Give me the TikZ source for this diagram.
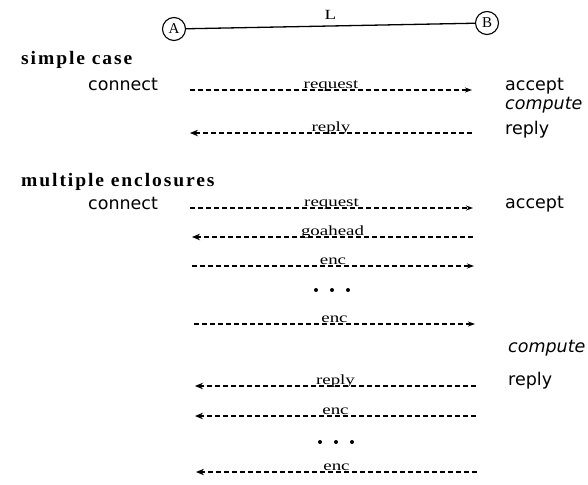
\documentclass[tikz,border=0pt]{standalone}
\usepackage{fontspec}
\setmainfont{Liberation Serif}
\newfontfamily\sidefont{DejaVu Sans}
\newfontfamily\headfont[FakeStretch=1.03,LetterSpace=10]{Liberation Serif}
\newfontfamily\lblfont[FakeStretch=1.35]{Liberation Serif}
\usetikzlibrary{arrows.meta}

\tikzset{
  side/.style={font=\sidefont\fontsize{17.5}{20}\selectfont, anchor=base west, inner sep=0pt},
  sideit/.style={side, font=\sidefont\itshape\fontsize{17.5}{20}\selectfont},
  head/.style={font=\headfont\bfseries\fontsize{19}{22}\selectfont, anchor=base west, inner sep=0pt},
  lbl/.style={font=\lblfont\fontsize{14}{16}\selectfont, anchor=base, inner sep=0pt, yshift=1.5pt},
  msg/.style={line width=1.3pt, dash pattern=on 5pt off 3pt,
              -{Stealth[length=7pt,width=5pt]}},
  back/.style={line width=1.3pt, dash pattern=on 5pt off 3pt,
              -{Stealth[length=8pt,width=6.5pt]}},
  endpt/.style={circle, draw, line width=1.1pt, minimum size=23pt, inner sep=0pt,
                font=\fontsize{15}{17}\selectfont},
  dot/.style={circle, fill, inner sep=0pt, minimum size=4pt}
}

\begin{document}
\begin{tikzpicture}[x=1pt, y=-1pt]
  \useasboundingbox (0,0) rectangle (588,484);

  % the two endpoints and the link between them
  \node[endpt] (A) at (174,29) {A};
  \node[endpt] (B) at (487,23) {B};
  \draw[line width=1.3pt] (A) -- node[lbl, yshift=5pt] {L} (B);

  % ---------- simple case ----------
  \node[head] (h1) at (21,65) {simple case};
  \node[side] (c1) at (88,91) {connect};
  \node[side] (a1) at (505,91) {accept};
  \node[sideit] (p1) at (505,110) {compute};
  \node[side] (r1) at (505,134) {reply};

  \coordinate (s1L) at (190,90);  \coordinate (s1R) at (472,90);
  \coordinate (s2L) at (190,133); \coordinate (s2R) at (472,133);
  \draw[msg] (s1L) -- node[lbl] {request} (s1R);
  \draw[back] (s2R) -- node[lbl] {reply} (s2L);

  % ---------- multiple enclosures ----------
  \node[head] (h2) at (21,186) {multiple enclosures};
  \node[side] (c2) at (88,209) {connect};
  \node[side] (a2) at (505,208) {accept};
  \node[sideit] (p2) at (508,352) {compute};
  \node[side] (r2) at (508,385) {reply};

  \coordinate (m1L) at (190,208); \coordinate (m1R) at (473,208);
  \coordinate (m2L) at (192,237); \coordinate (m2R) at (473,237);
  \coordinate (m3L) at (192,266); \coordinate (m3R) at (474,266);
  \coordinate (m4L) at (194,324); \coordinate (m4R) at (475,324);
  \coordinate (m5L) at (195,386); \coordinate (m5R) at (476,386);
  \coordinate (m6L) at (195,416); \coordinate (m6R) at (476,416);
  \coordinate (m7L) at (196,472); \coordinate (m7R) at (477,472);

  \draw[msg] (m1L) -- node[lbl] {request} (m1R);
  \draw[back] (m2R) -- node[lbl] {goahead} (m2L);
  \draw[msg] (m3L) -- node[lbl] {enc} (m3R);
  \draw[msg] (m4L) -- node[lbl] {enc} (m4R);
  \draw[back] (m5R) -- node[lbl] {reply} (m5L);
  \draw[back] (m6R) -- node[lbl] {enc} (m6L);
  \draw[back] (m7R) -- node[lbl] {enc} (m7L);

  % ellipses between repeated enclosures
  \foreach \x in {316,332,348} {
    \node[dot] at (\x,290) {};
  }
  \foreach \x in {320,336,352} {
    \node[dot] at (\x,442) {};
  }
\end{tikzpicture}
\end{document}
